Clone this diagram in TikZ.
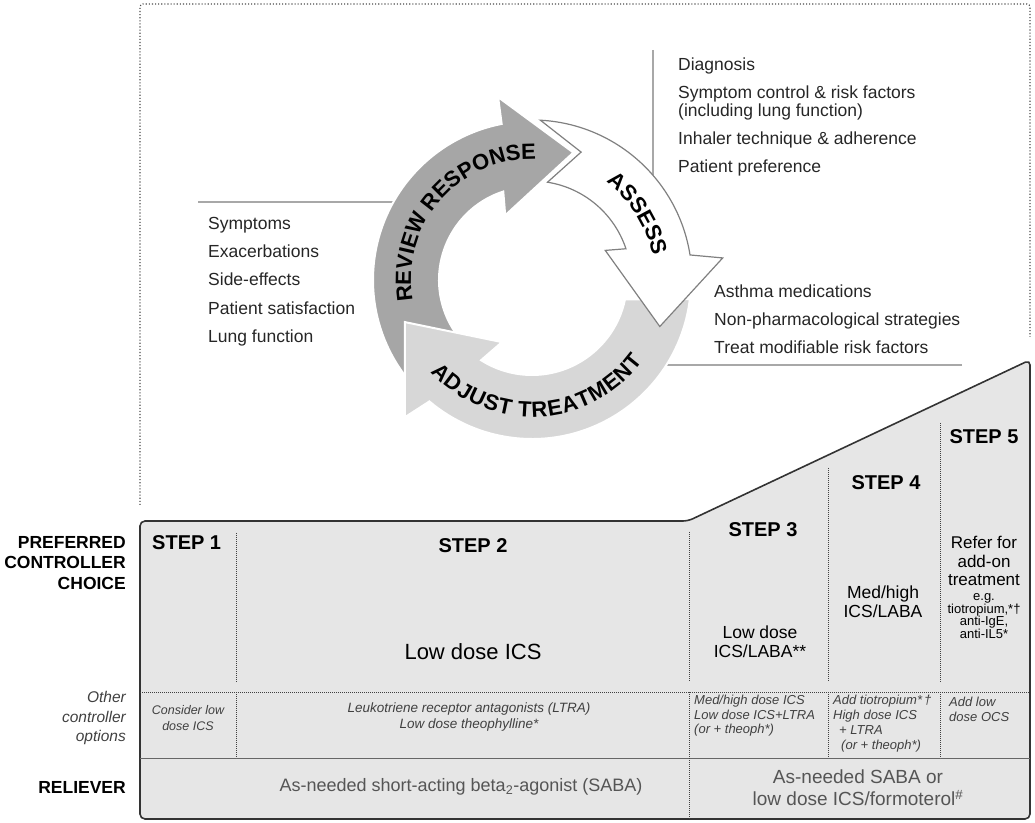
\documentclass[tikz,border=0pt]{standalone}
\usepackage{fontspec}
\setmainfont{Liberation Sans}
\usetikzlibrary{decorations.text}

\definecolor{revgray}{HTML}{A6A6A6}
\definecolor{adjgray}{HTML}{D7D7D7}
\definecolor{boxgray}{HTML}{E6E6E6}
\definecolor{sepgray}{HTML}{A8A8A8}
\definecolor{relgray}{HTML}{555555}
\newcommand{\fsz}[2]{\fontsize{#1}{#2}\selectfont}

\tikzset{
  steplabel/.style={font=\fsz{20}{22}\bfseries, inner sep=0pt},
  rowlabel/.style={anchor=east, align=right, inner sep=0pt},
  listtext/.style={anchor=west, align=left, inner sep=0pt, text=black!85, font=\fsz{17.5}{28.3}},
  maintext/.style={align=center, inner sep=0pt, font=\fsz{17.5}{19}},
  othertext/.style={inner sep=0pt, text=black!75, font=\fsz{13}{14.5}\itshape},
  divider/.style={black!75, line width=1pt, densely dotted},
  seprule/.style={sepgray, line width=1.3pt},
  cycletext/.style={decorate, decoration={text along path, text align=center, text={|\fsz{22}{22}\bfseries|#1}}}
}

\begin{document}
\begin{tikzpicture}[x=1pt, y=1pt]
\useasboundingbox (0,0) rectangle (1035,822);

\draw[black!70, line width=1.1pt, dotted, rounded corners=3pt] (140,317) -- (140,818) -- (1030,818) -- (1030,485);

% stepped table
\draw[fill=boxgray, draw=black!80, line width=1.6pt, rounded corners=5pt] (140,301) -- (688,301) -- (1030,462) -- (1030,3) -- (140,3) -- cycle;
\draw[divider] (140,130) -- (1030,130);
\draw[black!60, line width=1pt] (140,64) -- (1030,64);
\draw[divider] (236,289) -- (236,140) (236,130) -- (236,64);
\draw[divider] (689,290) -- (689,140) (689,130) -- (689,3);
\draw[divider] (828,354) -- (828,140) (828,130) -- (828,64);
\draw[divider] (940,399) -- (940,140) (940,130) -- (940,64);

\node[rowlabel, font=\fsz{17.5}{20.5}\bfseries] (pref) at (126,259) {PREFERRED\\CONTROLLER\\CHOICE};
\node[rowlabel, text=black!75, font=\fsz{15.5}{19.5}\itshape] (other) at (126,104) {Other\\controller\\options};
\node[rowlabel, font=\fsz{17.5}{20.5}\bfseries] (rel) at (126,35) {RELIEVER};

\node[steplabel, anchor=west] (s1) at (152,279) {STEP 1};
\node[steplabel] (s2) at (473,276) {STEP 2};
\node[steplabel] (s3) at (763,292) {STEP 3};
\node[steplabel] (s4) at (886,339) {STEP 4};
\node[steplabel] (s5) at (984,385) {STEP 5};

\node[maintext, font=\fsz{22}{24}] (c2) at (473,170) {Low dose ICS};
\node[maintext] (c3) at (760,180) {Low dose\\ICS/LABA**};
\node[maintext] (c4) at (883,220) {Med/high\\ICS/LABA};
\node[maintext, font=\fsz{17}{18.5}] (c5) at (984,261) {Refer for\\add-on\\treatment};
\node[maintext, font=\fsz{13}{12.7}] (c5b) at (984,206) {e.g.\\tiotropium,*†\\anti-IgE,\\anti-IL5*};

\node[othertext, align=center, font=\fsz{12.5}{16}\itshape] (o1) at (188,104) {Consider low\\dose ICS};
\node[othertext, align=center, font=\fsz{13.5}{16}\itshape] (o2) at (469,105) {Leukotriene receptor antagonists (LTRA)\\Low dose theophylline*};
\node[othertext, anchor=west, align=left] (o3) at (694,106) {Med/high dose ICS\\Low dose ICS+LTRA\\(or + theoph*)};
\node[othertext, anchor=west, align=left, font=\fsz{13}{15}\itshape] (o4) at (833,98) {Add tiotropium*\,†\\High dose ICS\\\hspace{6pt}+ LTRA\\\hspace{8pt}(or + theoph*)};
\node[othertext, anchor=west, align=left, font=\fsz{13}{15}\itshape] (o5) at (949,113) {Add low\\dose OCS};

\node[text=relgray, font=\fsz{18}{22}, inner sep=0pt] (r1) at (461,35) {As-needed short-acting beta\textsubscript{2}-agonist (SABA)};
\node[text=relgray, align=center, font=\fsz{19}{22}, inner sep=0pt] (r2) at (858,34) {As-needed SABA or\\low dose ICS/formoterol\textsuperscript{\#}};

% cycle
\node[listtext] (review) at (208,540.5) {Symptoms\\Exacerbations\\Side-effects\\Patient satisfaction\\Lung function};
\node[listtext, font=\fsz{17.5}{18}] (assess) at (678,705.5) {Diagnosis\\[10pt]Symptom control \& risk factors\\(including lung function)\\[10pt]Inhaler technique \& adherence\\[10pt]Patient preference};
\node[listtext, font=\fsz{17.5}{28}] (adjust) at (714,503) {Asthma medications\\Non-pharmacological strategies\\Treat modifiable risk factors};

\coordinate (revL) at (198,620);
\coordinate (revR) at (400,620);
\coordinate (assT) at (653,772);
\coordinate (assB) at (653,640);
\coordinate (adjR) at (962,457);
\coordinate (adjL) at (660,457);
\draw[seprule] (revL) -- (revR);
\draw[seprule] (assT) -- (assB);
\draw[seprule] (adjR) -- (adjL);

\coordinate (ctr) at (532,542);
\begin{scope}[shift={(ctr)}]
\filldraw[fill=revgray, draw=white, line width=2pt] (225:159) arc[start angle=225, end angle=101, radius=159] -- (100.5:186) -- (72:134) -- (112.5:70) -- (108:93) arc[start angle=108, end angle=225, radius=93] -- cycle;
\filldraw[fill=adjgray, draw=white, line width=2pt] (-6.9:159) arc[start angle=-6.9, end angle=-130.2, radius=159] -- (-132.8:187) -- (-161.7:134) -- (-115.8:69) -- (-122.4:95) arc[start angle=-122.4, end angle=-11.8, radius=95] -- cycle;
\filldraw[fill=white, draw=black!50, line width=1.2pt] (87:160) arc[start angle=87, end angle=9, radius=160] -- (6.6:192) -- (-20:136) -- (22:79) -- (18.4:99) arc[start angle=18.4, end angle=81, radius=99] -- (69:137) -- cycle;
\path[cycletext={REVIEW RESPONSE}] (200:121) arc[start angle=200, end angle=78, radius=121];
\path[cycletext={ASSESS}] (72:123) arc[start angle=72, end angle=-8, radius=123];
\path[cycletext={ADJUST TREATMENT}, decoration={raise=-8pt}] (203:129) arc[start angle=203, end angle=343, radius=129];
\end{scope}
\end{tikzpicture}
\end{document}
